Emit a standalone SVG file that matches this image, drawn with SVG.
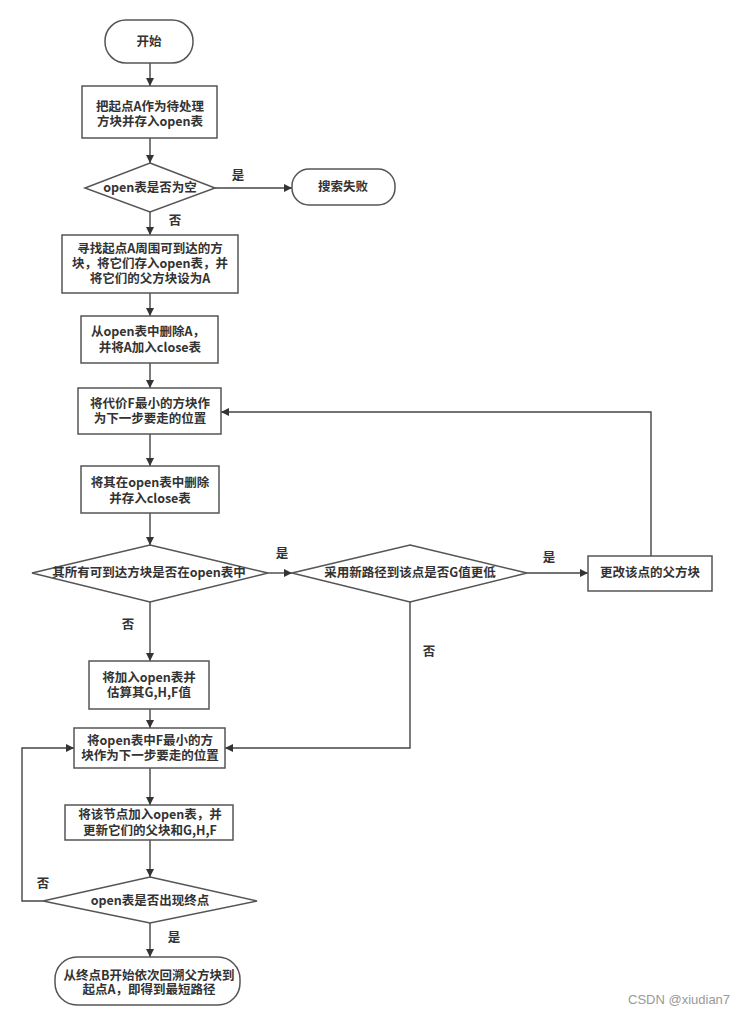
<svg xmlns="http://www.w3.org/2000/svg" width="747" height="1014" viewBox="0 0 747 1014">
<style>
.n{fill:#fff;stroke:#555;stroke-width:1.5}
.t{font-family:"Noto Sans CJK SC","Microsoft YaHei",sans-serif;font-size:12.5px;font-weight:bold;fill:#333;text-anchor:middle}
.l{font-family:"Noto Sans CJK SC",sans-serif;font-size:12.5px;font-weight:bold;fill:#333;text-anchor:middle}
.c{fill:none;stroke:#444;stroke-width:1.4}
</style>
<defs>
<marker id="a" viewBox="0 0 10 10" refX="10" refY="5" markerWidth="9" markerHeight="8" markerUnits="userSpaceOnUse" orient="auto">
<path d="M0,0 L10,5 L0,10 z" fill="#333"/>
</marker>
</defs>
<rect width="747" height="1014" fill="#fff"/>
<g id="connectors">
<path class="c" d="M150,63 V86" marker-end="url(#a)"/>
<path class="c" d="M150,138 V163" marker-end="url(#a)"/>
<path class="c" d="M215,188 H292" marker-end="url(#a)"/>
<path class="c" d="M150,212 V235" marker-end="url(#a)"/>
<path class="c" d="M150,293 V316" marker-end="url(#a)"/>
<path class="c" d="M150,363 V388" marker-end="url(#a)"/>
<path class="c" d="M150,434 V466" marker-end="url(#a)"/>
<path class="c" d="M150,513 V545" marker-end="url(#a)"/>
<path class="c" d="M268,573 H292" marker-end="url(#a)"/>
<path class="c" d="M527,573 H588" marker-end="url(#a)"/>
<path class="c" d="M651,556 V412 H221" marker-end="url(#a)"/>
<path class="c" d="M150,602 V661" marker-end="url(#a)"/>
<path class="c" d="M410,602 V748 H225" marker-end="url(#a)"/>
<path class="c" d="M150,709 V728" marker-end="url(#a)"/>
<path class="c" d="M150,768 V805" marker-end="url(#a)"/>
<path class="c" d="M150,840 V877" marker-end="url(#a)"/>
<path class="c" d="M43,901 H22 V748 H74" marker-end="url(#a)"/>
<path class="c" d="M150,923 V957" marker-end="url(#a)"/>
<text class="l" x="238" y="180">是</text>
<text class="l" x="175" y="225">否</text>
<text class="l" x="282" y="558">是</text>
<text class="l" x="549" y="562">是</text>
<text class="l" x="128" y="629">否</text>
<text class="l" x="429" y="656">否</text>
<text class="l" x="43" y="888">否</text>
<text class="l" x="174" y="942">是</text>
</g>
<g id="start">
<rect class="n" x="105" y="20" width="88" height="43" rx="21"/>
<text class="t" x="149" y="46">开始</text>
</g>
<g id="box1">
<rect class="n" x="82" y="86" width="135" height="52"/>
<text class="t" x="150" y="111">把起点A作为待处理</text>
<text class="t" x="150" y="126">方块并存入open表</text>
</g>
<g id="dec1">
<polygon class="n" points="150,163 215,188 150,212 85,188"/>
<text class="t" x="150" y="192">open表是否为空</text>
</g>
<g id="fail">
<rect class="n" x="292" y="169" width="103" height="36" rx="17"/>
<text class="t" x="343" y="191">搜索失败</text>
</g>
<g id="box2">
<rect class="n" x="62" y="235" width="176" height="58"/>
<text class="t" x="150" y="253">寻找起点A周围可到达的方</text>
<text class="t" x="150" y="268">块，将它们存入open表，并</text>
<text class="t" x="150" y="283">将它们的父方块设为A</text>
</g>
<g id="box3">
<rect class="n" x="81" y="316" width="137" height="47"/>
<text class="t" x="148" y="336">从open表中删除A，</text>
<text class="t" x="150" y="352">并将A加入close表</text>
</g>
<g id="box4">
<rect class="n" x="78" y="388" width="143" height="46"/>
<text class="t" x="150" y="408">将代价F最小的方块作</text>
<text class="t" x="150" y="423">为下一步要走的位置</text>
</g>
<g id="box5">
<rect class="n" x="81" y="466" width="138" height="47"/>
<text class="t" x="150" y="487">将其在open表中删除</text>
<text class="t" x="150" y="503">并存入close表</text>
</g>
<g id="dec2">
<polygon class="n" points="150,545 268,573 150,602 32,573"/>
<text class="t" x="149" y="577">其所有可到达方块是否在open表中</text>
</g>
<g id="dec3">
<polygon class="n" points="410,545 527,573 410,602 292,573"/>
<text class="t" x="410" y="577">采用新路径到该点是否G值更低</text>
</g>
<g id="box6">
<rect class="n" x="588" y="556" width="124" height="35"/>
<text class="t" x="650" y="577">更改该点的父方块</text>
</g>
<g id="box7">
<rect class="n" x="89" y="661" width="120" height="48"/>
<text class="t" x="149" y="682">将加入open表并</text>
<text class="t" x="149" y="697">估算其G,H,F值</text>
</g>
<g id="box8">
<rect class="n" x="74" y="728" width="151" height="40"/>
<text class="t" x="150" y="745">将open表中F最小的方</text>
<text class="t" x="150" y="760">块作为下一步要走的位置</text>
</g>
<g id="box9">
<rect class="n" x="65" y="805" width="168" height="35"/>
<text class="t" x="150" y="819">将该节点加入open表，并</text>
<text class="t" x="150" y="835">更新它们的父块和G,H,F</text>
</g>
<g id="dec4">
<polygon class="n" points="150,877 257,901 150,923 43,901"/>
<text class="t" x="150" y="905">open表是否出现终点</text>
</g>
<g id="end">
<rect class="n" x="55" y="957" width="185" height="48" rx="22"/>
<text class="t" x="149" y="980">从终点B开始依次回溯父方块到</text>
<text class="t" x="149" y="994">起点A，即得到最短路径</text>
</g>
<text x="628" y="1004" font-family="Liberation Sans, Arial, sans-serif" font-size="13" fill="#999">CSDN @xiudian7</text>
</svg>
